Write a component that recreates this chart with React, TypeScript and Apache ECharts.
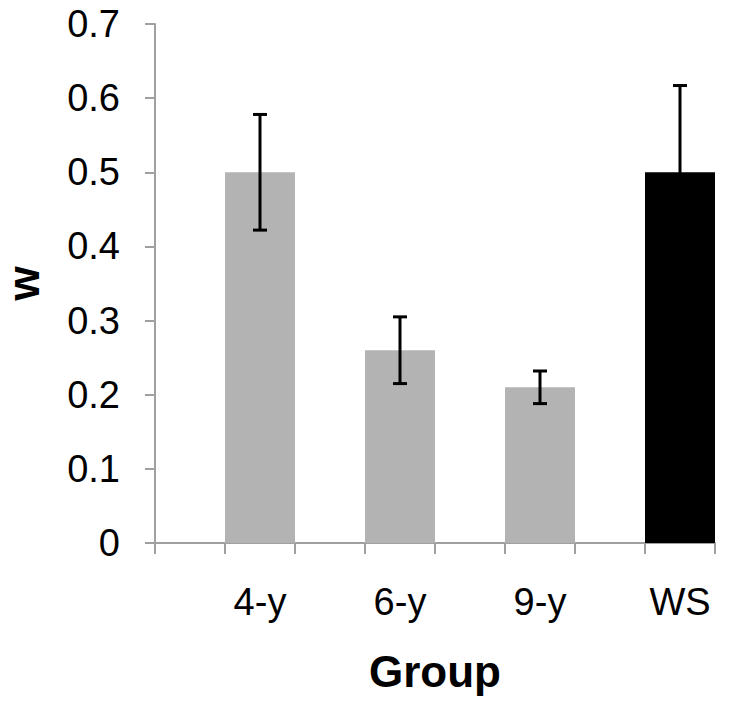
import React, { useEffect, useRef } from "react";
import * as echarts from "echarts";

const groups = ["4-y", "6-y", "9-y", "WS"];
const means = [0.5, 0.26, 0.21, 0.5];
const errors = [0.078, 0.045, 0.022, 0.117];
const yTicks = [0, 0.1, 0.2, 0.3, 0.4, 0.5, 0.6, 0.7];

const GRAY = "#b3b3b3";
const FONT = "Liberation Sans, Arial, sans-serif";

export default function App() {
  const ref = useRef<HTMLDivElement>(null);
  useEffect(() => {
    if (!ref.current) return;
    const chart = echarts.init(ref.current, null, { renderer: "svg" });
    // interleave empty slots with groups (bars sit in every other slot)
    const categories = groups.flatMap((g, i) => ["gap" + i, g]);
    const barData = groups.flatMap((g, i) => [
      "-",
      {
        value: means[i],
        itemStyle: { color: g === "WS" ? "#000000" : GRAY },
      },
    ]);
    const errData = groups.map((g, i) => [
      i * 2 + 1,
      means[i] - errors[i],
      means[i] + errors[i],
    ]);
    chart.setOption({
      animation: false,
      grid: {
        left: 155,
        right: 14,
        top: 24,
        bottom: 169,
        containLabel: false,
        outerBoundsMode: "none",
      },
      xAxis: {
        type: "category",
        data: categories,
        boundaryGap: true,
        name: "Group",
        nameLocation: "middle",
        nameGap: 106,
        nameTextStyle: { fontFamily: FONT, fontSize: 44, fontWeight: "bold", color: "#000" },
        axisLine: { lineStyle: { color: "#a0a0a0", width: 2 } },
        axisTick: { show: true, interval: 0, length: 11, alignWithLabel: false, lineStyle: { color: "#a0a0a0", width: 2 } },
        axisLabel: {
          interval: 0,
          margin: 40,
          fontFamily: FONT,
          fontSize: 38,
          color: "#000",
          formatter: (v: string) => (v.startsWith("gap") ? "" : v),
        },
        splitLine: { show: false },
      },
      yAxis: {
        type: "value",
        min: yTicks[0],
        max: yTicks[yTicks.length - 1],
        interval: 0.1,
        name: "w",
        nameLocation: "middle",
        nameGap: 110,
        nameTextStyle: { fontFamily: FONT, fontSize: 44, fontWeight: "bold", color: "#000" },
        axisLine: { show: true, lineStyle: { color: "#a0a0a0", width: 2 } },
        axisTick: { show: true, length: 10, lineStyle: { color: "#a0a0a0", width: 2 } },
        axisLabel: {
          margin: 35,
          fontFamily: FONT,
          fontSize: 38,
          color: "#000",
          formatter: (v: number) => String(Math.round(v * 10) / 10),
        },
        splitLine: { show: false },
      },
      series: [
        {
          type: "bar",
          data: barData,
          barWidth: "100%",
          barCategoryGap: "0%",
        },
        {
          type: "custom",
          data: errData,
          z: 10,
          renderItem: (params: any, api: any) => {
            const x = api.value(0);
            const lo = api.coord([x, api.value(1)]);
            const hi = api.coord([x, api.value(2)]);
            const half = 7;
            const style = { stroke: "#000", lineWidth: 3 };
            return {
              type: "group",
              children: [
                { type: "line", shape: { x1: lo[0], y1: lo[1], x2: hi[0], y2: hi[1] }, style },
                { type: "line", shape: { x1: hi[0] - half, y1: hi[1], x2: hi[0] + half, y2: hi[1] }, style },
                { type: "line", shape: { x1: lo[0] - half, y1: lo[1], x2: lo[0] + half, y2: lo[1] }, style },
              ],
            };
          },
        },
      ],
    });
    return () => chart.dispose();
  }, []);
  return <div ref={ref} style={{ width: 729, height: 712, position: "absolute", left: 0, top: 0 }} />;
}
